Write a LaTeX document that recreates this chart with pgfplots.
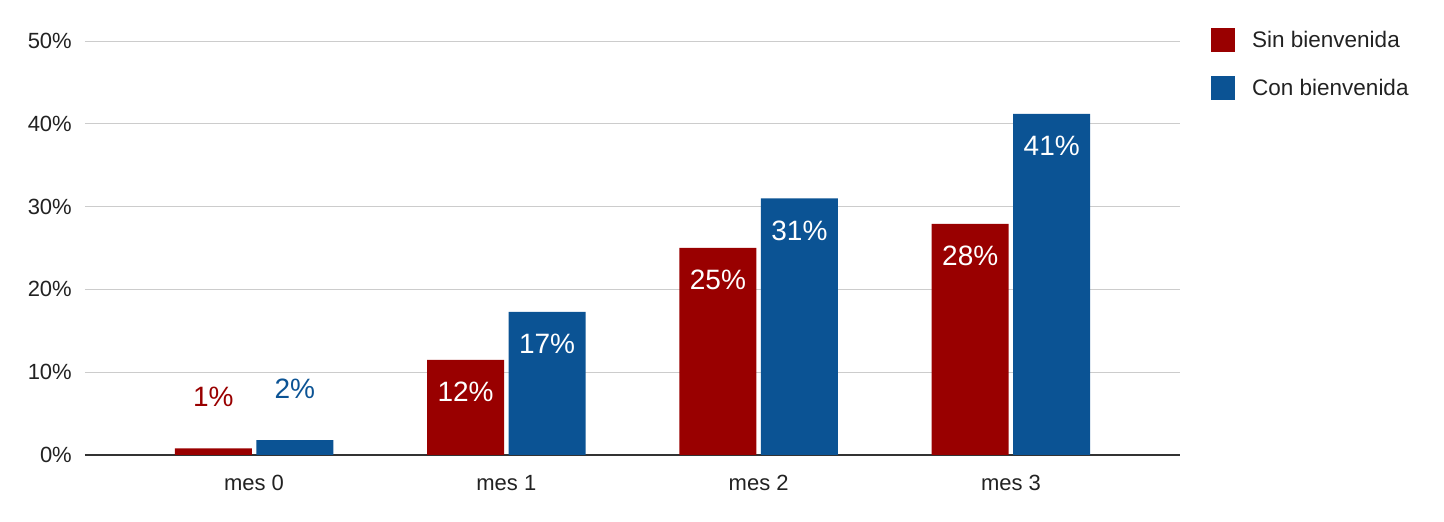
\documentclass[border=0pt]{standalone}
\usepackage{fontspec}
\setmainfont{Liberation Sans}
\usepackage{pgfplots}
\usepackage{pgfplotstable}
\pgfplotsset{compat=1.18}

\definecolor{sinred}{HTML}{990000}
\definecolor{conblue}{HTML}{0B5394}
\definecolor{gridgray}{HTML}{CCCCCC}
\definecolor{axisgray}{HTML}{333333}
\definecolor{txt}{HTML}{222222}

% bar height (percent) and the rounded label
\pgfplotstableread{
x val lab
0 0.8 1
1 11.5 12
2 25.0 25
3 27.9 28
}\sintable
\pgfplotstableread{
x val lab
0 1.8 2
1 17.3 17
2 31.0 31
3 41.2 41
}\contable

\pgfplotsset{
  sqlegend/.style={legend image code/.code={\fill[##1] (0pt,-12pt) rectangle (24pt,12pt);}},
}
% label inside the bar in white, or above it in the bar colour for the tiny mes 0 bars
\newcommand{\barlabel}[1]{%
  \ifdim\xv pt<0.5pt
    \raisebox{84pt}[0pt][0pt]{\textcolor{#1}{\pgfmathprintnumber{\pgfplotspointmeta}\%}}%
  \else
    \raisebox{0pt}[0pt][0pt]{\textcolor{white}{\pgfmathprintnumber{\pgfplotspointmeta}\%}}%
  \fi}

\begin{document}
\begin{tikzpicture}[x=1pt,y=1pt]
\useasboundingbox (0,0) rectangle (1444,522);
\begin{axis}[
  at={(85pt,67pt)}, anchor=south west,
  scale only axis, width=1095pt, height=414pt,
  ybar=4.5pt, bar width=77pt,
  xmin=-0.67, xmax=3.67, ymin=0, ymax=50,
  xtick={0,1,2,3}, xticklabels={mes 0,mes 1,mes 2,mes 3},
  ytick={0,10,...,50}, yticklabel={\pgfmathprintnumber{\tick}\%},
  /pgf/number format/assume math mode=true,
  ymajorgrids, grid style={gridgray, line width=1pt},
  axis lines*=left,
  y axis line style={draw=none},
  x axis line style={axisgray, line width=1.3pt},
  major tick length=0pt,
  tick label style={font=\fontsize{22}{26}\selectfont, text=txt},
  yticklabel style={inner sep=0pt, xshift=-13pt},
  xticklabel style={inner sep=0pt, yshift=-20pt},
  point meta=explicit,
  visualization depends on={x \as \xv},
  every node near coord/.append style={font=\fontsize{28}{32}\selectfont, anchor=base, inner sep=0pt, yshift=-42pt},
  clip=false,
  legend style={draw=none, fill=none, at={(1,1)}, anchor=north west,
    xshift=31pt, yshift=13pt, inner sep=0pt, row sep=24pt,
    font=\fontsize{22.5}{26}\selectfont, text=txt,
    nodes={inner sep=0pt, anchor=west}},
  legend cell align=left,
]
\addplot[fill=sinred, draw=none, sqlegend, nodes near coords={\barlabel{sinred}}]
  table[x=x, y=val, meta=lab] {\sintable};
\addplot[fill=conblue, draw=none, sqlegend, nodes near coords={\barlabel{conblue}}]
  table[x=x, y=val, meta=lab] {\contable};
\legend{\hspace{17pt}Sin bienvenida,\hspace{17pt}Con bienvenida}
\end{axis}
\end{tikzpicture}
\end{document}
